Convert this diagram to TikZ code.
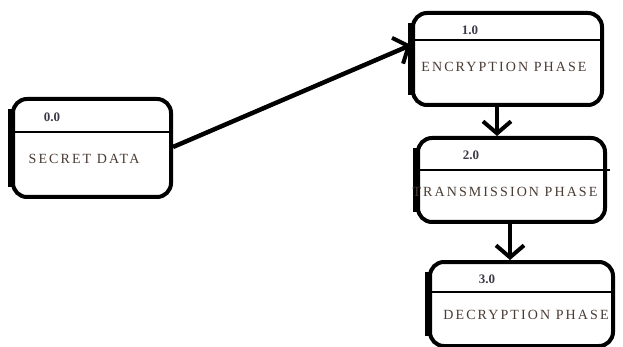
\documentclass[tikz,border=0pt]{standalone}
\usepackage{fontspec}
\setmainfont{Liberation Serif}
\usetikzlibrary{arrows.meta}
\definecolor{txt}{HTML}{4A3B33}
\definecolor{num}{HTML}{3A3A48}
\tikzset{
  procbox/.style={draw=black, line width=4pt, rounded corners=14pt, fill=white, inner sep=0pt},
  leftedge/.style={draw=black, line width=6.5pt},
  divider/.style={draw=black, line width=2pt},
  flow/.style={draw=black, line width=4.5pt, -{Straight Barb[length=12pt,width=28pt,line width=4pt]}},
  numtxt/.style={text=num, font=\fontsize{13}{15}\selectfont\bfseries, inner sep=0pt},
  lbltxt/.style={text=txt, font=\fontsize{14}{16}\selectfont\addfontfeature{LetterSpace=15}, inner sep=0pt}
}
\begin{document}
\begin{tikzpicture}[x=1pt,y=-1pt]
\useasboundingbox (0,0) rectangle (623,347);
% boxes
\node[procbox, minimum width=158pt, minimum height=98pt] (b0) at (92,148) {};
\node[procbox, minimum width=189pt, minimum height=92pt] (b1) at (507.5,59) {};
\node[procbox, minimum width=187pt, minimum height=84pt] (b2) at (511.5,180) {};
\node[procbox, minimum width=183pt, minimum height=84pt] (b3) at (521.5,304) {};
% thicker left sides
\draw[leftedge] ([yshift=-12pt]b0.north west) -- ([yshift=12pt]b0.south west);
\draw[leftedge] ([yshift=-12pt]b1.north west) -- ([yshift=12pt]b1.south west);
\draw[leftedge] ([yshift=-12pt]b2.north west) -- ([yshift=12pt]b2.south west);
\draw[leftedge] ([yshift=-12pt]b3.north west) -- ([yshift=12pt]b3.south west);
% dividers
\coordinate (d0l) at (b0.west |- 0,132);
\coordinate (d0r) at (b0.east |- 0,132);
\draw[divider] (d0l) -- (d0r);
\coordinate (d1l) at (b1.west |- 0,40);
\coordinate (d1r) at (b1.east |- 0,40);
\draw[divider] (d1l) -- (d1r);
\coordinate (d2l) at (b2.west |- 0,170);
\coordinate (d2r) at (610,170);
\draw[divider] (d2l) -- (d2r);
\coordinate (d3l) at (b3.west |- 0,292);
\coordinate (d3r) at (b3.east |- 0,292);
\draw[divider] (d3l) -- (d3r);
% texts
\node[numtxt] (n0) at (52,117) {0.0};
\node[lbltxt] (l0) at (84,159) {SECRET DATA};
\node[numtxt] (n1) at (470,30) {1.0};
\node[lbltxt] (l1) at (504,67) {ENCRYPTION PHASE};
\node[numtxt] (n2) at (471,155) {2.0};
\node[lbltxt] (l2) at (505,192) {TRANSMISSION PHASE};
\node[numtxt] (n3) at (487,279) {3.0};
\node[lbltxt] (l3) at (526,315) {DECRYPTION PHASE};
% connectors
\coordinate (a0s) at (b0.east |- 0,147);
\coordinate (a0e) at (b1.west |- 0,45);
\draw[flow] (a0s) -- (a0e);
\coordinate (a1s) at (497,0 |- b1.south);
\coordinate (a1e) at (497,0 |- b2.north);
\draw[flow] (a1s) -- (a1e);
\coordinate (a2s) at (510,0 |- b2.south);
\coordinate (a2e) at (510,0 |- b3.north);
\draw[flow] (a2s) -- (a2e);
\end{tikzpicture}
\end{document}
